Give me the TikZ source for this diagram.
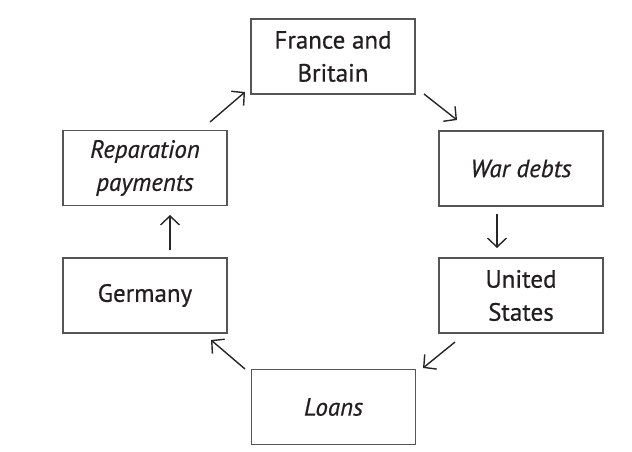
\documentclass[tikz,border=0pt]{standalone}
\usepackage{fontspec}
\setmainfont{PT Sans}[FakeBold=0.6]
\usetikzlibrary{arrows.meta}
\definecolor{boxgray}{HTML}{555555}
\definecolor{txt}{HTML}{231F20}
\begin{document}
\begin{tikzpicture}[x=1pt,y=-1pt,
  cbox/.style={draw=boxgray,line width=1.5pt,minimum width=164pt,minimum height=75pt,
    inner sep=0pt,align=center,text=txt,font=\fontsize{25}{33}\selectfont},
  flow/.style={draw=black!85,line width=1.4pt,-{Straight Barb[length=9pt,width=19pt,line width=1.4pt]}}]
\useasboundingbox (0,0) rectangle (632,452);
\node[cbox] (fb) at (333,56.5) {France and\\Britain};
\node[cbox] (wd) at (521,168.5) {\itshape War debts};
\node[cbox] (us) at (521,295.5) {United\\States};
\node[cbox] (lo) at (333.5,407) {\itshape Loans};
\node[cbox] (ge) at (145,295.5) {Germany};
\node[cbox] (rp) at (145,168) {\itshape Reparation\\\itshape payments};
\coordinate (a1s) at (210,122); \coordinate (a1e) at (245,92);
\coordinate (a2s) at (424,94);  \coordinate (a2e) at (457,120);
\coordinate (a3s) at (497,214); \coordinate (a3e) at (497,248);
\coordinate (a4s) at (455,342); \coordinate (a4e) at (423,368);
\coordinate (a5s) at (245,369); \coordinate (a5e) at (211,340);
\coordinate (a6s) at (170,250); \coordinate (a6e) at (170,215);
\draw[flow] (a1s) -- (a1e);
\draw[flow] (a2s) -- (a2e);
\draw[flow] (a3s) -- (a3e);
\draw[flow] (a4s) -- (a4e);
\draw[flow] (a5s) -- (a5e);
\draw[flow] (a6s) -- (a6e);
\end{tikzpicture}
\end{document}
